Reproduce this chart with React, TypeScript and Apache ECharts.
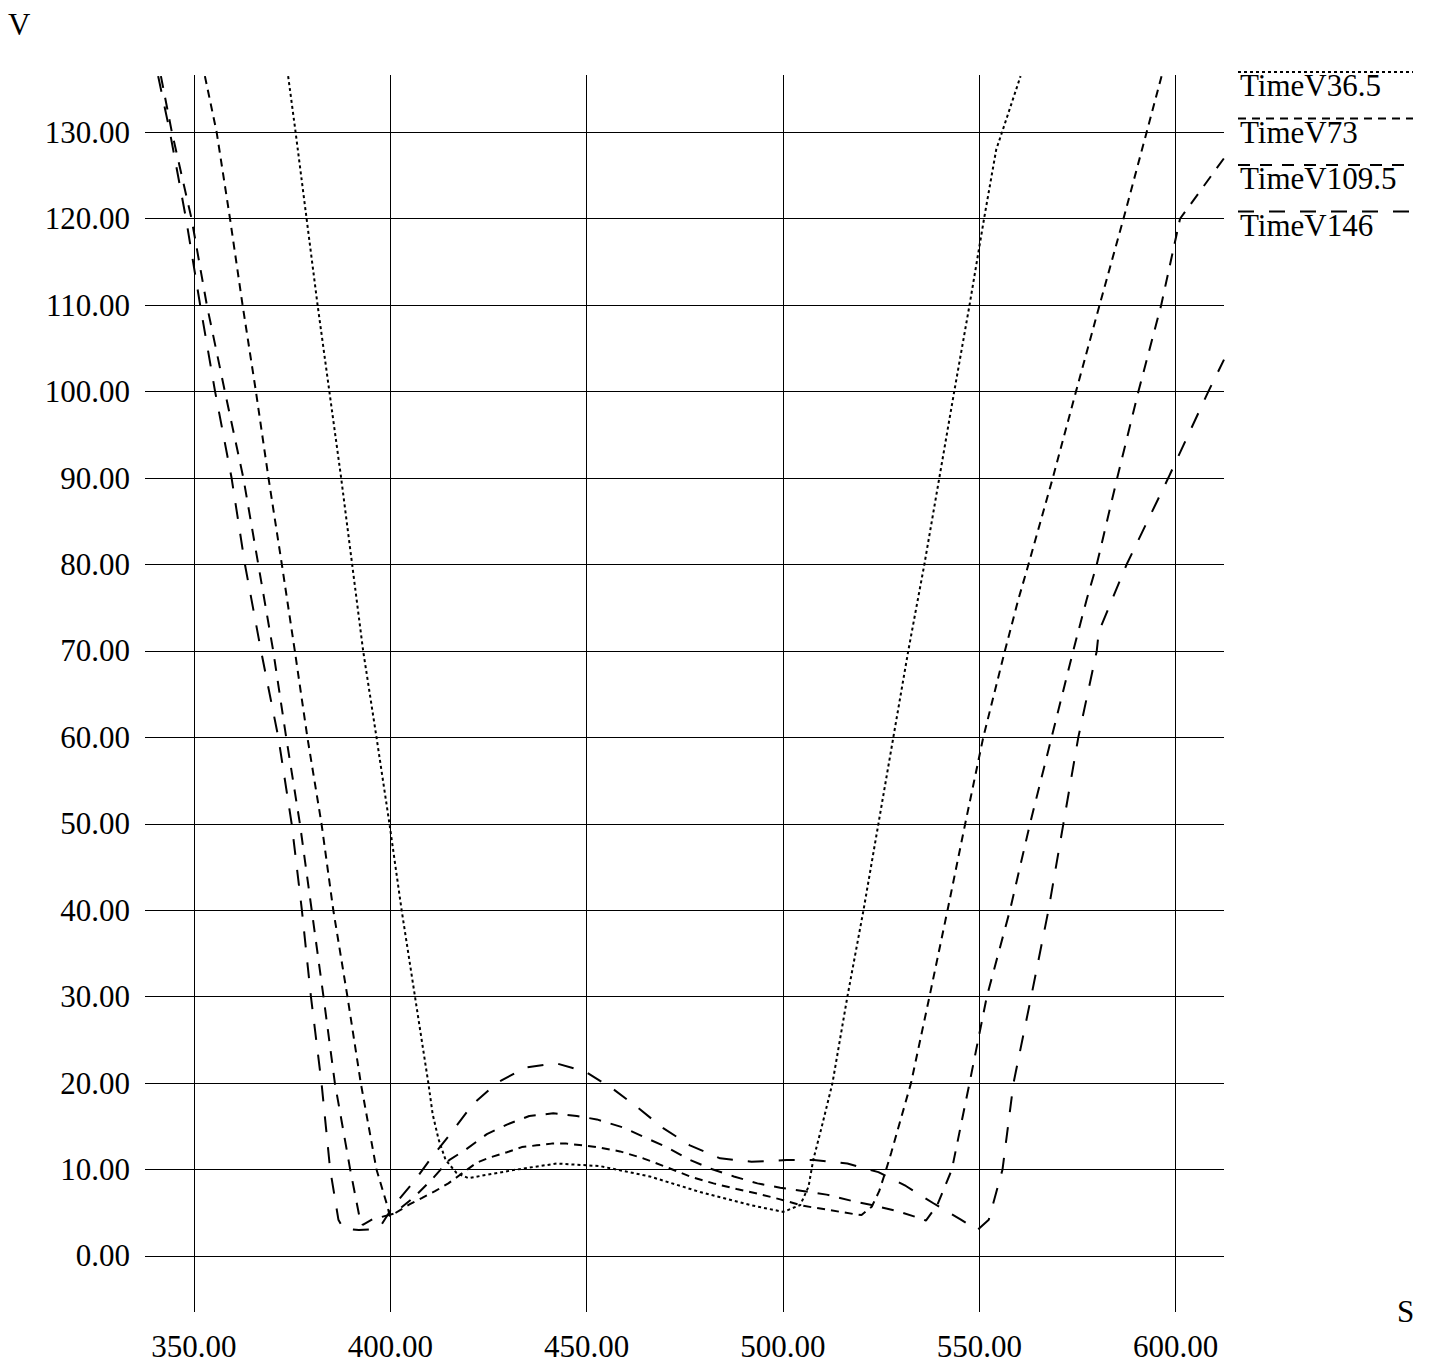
import { useEffect, useRef } from 'react';
import * as echarts from 'echarts';

// Series names, in legend order
const seriesNames = ['TimeV36.5', 'TimeV73', 'TimeV109.5', 'TimeV146'];

// TimeV36.5
const s36_5 = [374.0, 375.9, 378.7, 381.5, 384.5, 387.5, 390.3, 393.1, 396.5, 399.8, 402.9, 406.3, 409.7, 410.8, 412.3, 414.1, 416.9, 419.9, 424.6, 432.2, 442.4, 453.4, 466.1, 478.9, 491.6, 500.1, 504.4, 506.5, 507.7, 509.9, 512.6, 516.4, 520.5, 524.3, 528.1, 531.9, 536.0, 539.8, 543.6, 547.5, 551.2, 554.3, 556.5, 560.5];
const v36_5 = [136.5, 130, 120, 110, 100, 90, 80, 70, 60, 50, 40, 30, 20, 16.4, 13.5, 11.1, 9.6, 9.0, 9.4, 10.0, 10.7, 10.4, 9.2, 7.4, 5.9, 5.1, 5.9, 8.0, 11.1, 15.0, 20, 30, 40, 50, 60, 70, 80, 90, 100, 110, 120, 128, 131, 136.5];

// TimeV73
const s73 = [352.8, 355.8, 359.2, 362.4, 365.8, 369.0, 372.4, 375.7, 378.9, 382.5, 385.5, 389.1, 392.5, 396.5, 399.2, 399.9, 401.4, 405.0, 408.0, 411.4, 414.8, 417.8, 422.0, 425.4, 429.7, 433.5, 437.3, 441.1, 444.9, 449.2, 452.6, 458.5, 464.4, 470.8, 476.3, 482.3, 488.2, 493.7, 499.3, 505.2, 512.0, 517.9, 520.0, 522.6, 524.5, 526.0, 527.6, 532.6, 537.3, 541.9, 546.4, 551.0, 556.5, 559.9, 562.5, 568.7, 574.6, 580.6, 586.7, 592.6, 596.4];
const v73 = [136.5, 130, 120, 110, 100, 90, 80, 70, 60, 50, 40, 30, 20, 10, 5.9, 4.6, 5.0, 6.0, 6.7, 7.5, 8.4, 9.4, 10.8, 11.4, 12.0, 12.6, 12.8, 13.0, 13.0, 12.8, 12.6, 12.1, 11.3, 10.2, 9.2, 8.4, 7.75, 7.2, 6.55, 5.8, 5.3, 4.86, 4.74, 5.7, 7.5, 9.6, 12, 20, 30, 40, 50, 60, 70, 75.9, 80, 90, 100, 110, 120, 130, 136.5];

// TimeV109.5
const s109_5 = [341.6, 344.4, 349.4, 353.3, 357.9, 362.6, 366.4, 370.2, 373.5, 377.0, 380.0, 383.0, 385.9, 389.8, 392.3, 393.0, 395.3, 400.9, 406.3, 410.7, 415.0, 419.2, 424.6, 429.7, 435.4, 441.5, 447.5, 452.6, 459.1, 464.9, 470.4, 475.9, 481.6, 487.5, 493.5, 499.3, 505.4, 511.1, 517.3, 522.6, 529.0, 535.3, 536.4, 539.3, 543.0, 547.5, 551.9, 557.8, 562.9, 568.4, 573.9, 577.3, 579.9, 585.1, 590.5, 596.3, 601.1, 612.3];
const v109_5 = [136.5, 130, 120, 110, 100, 90, 80, 70, 60, 50, 40, 30, 20, 10, 4.2, 3.6, 4.2, 4.9, 6.9, 8.9, 11.1, 12.3, 14.1, 15.2, 16.2, 16.5, 16.2, 15.8, 14.9, 13.7, 12.6, 11.2, 10.1, 9.2, 8.4, 7.9, 7.5, 7.1, 6.4, 5.9, 5.2, 4.3, 4.1, 5.9, 10, 20, 30, 40, 50, 60, 70, 75.9, 80, 90, 100, 110, 120, 127];

// TimeV146
const s146 = [340.9, 343.9, 348.0, 351.6, 355.4, 359.6, 363.0, 367.1, 371.5, 374.9, 377.5, 379.8, 382.5, 384.7, 386.8, 388.0, 392.0, 395.5, 397.6, 400.5, 406.0, 410.7, 415.6, 420.9, 427.1, 434.3, 442.2, 449.8, 456.5, 463.2, 469.5, 476.3, 484.0, 492.0, 500.9, 507.9, 516.4, 524.3, 531.3, 538.3, 545.3, 549.5, 552.4, 555.9, 558.7, 563.2, 567.6, 571.4, 575.2, 579.9, 580.4, 587.5, 598.1, 608.3, 612.3];
const v146 = [136.5, 130, 120, 110, 100, 90, 80, 70, 60, 50, 40, 30, 20, 10, 4.2, 3.2, 3.0, 3.1, 3.5, 5.6, 8.6, 11.5, 14.3, 17.5, 20.0, 21.8, 22.3, 21.3, 19.4, 17.1, 14.8, 12.8, 11.3, 10.9, 11.1, 11.1, 10.7, 9.7, 8.1, 6.1, 4.2, 3.0, 4.2, 10, 20, 30, 40, 50, 60, 70, 72.2, 80, 90, 100, 103.7];

const sValues = [s36_5, s73, s109_5, s146];
const vValues = [v36_5, v73, v109_5, v146];

// Axis ranges and tick steps
const sRange = [337.55, 612.3];
const vRange = [-6.48, 136.63];
const sStep = 50;
const vStep = 10;

// Line dash pattern of each series
const dashPatterns = [[3, 3], [8, 6], [12, 10], [16, 15]];

const FONT = "'Liberation Serif', 'Times New Roman', Times, serif";

const isStep = (v: number, step: number) => Math.abs(v / step - Math.round(v / step)) < 1e-6;

export default function App() {
  const ref = useRef<HTMLDivElement>(null);

  useEffect(() => {
    const chart = echarts.init(ref.current!, null, { renderer: 'svg' });

    const series = seriesNames.map((name, i) => ({
      type: 'line',
      name,
      data: sValues[i].map((s, k) => [s, vValues[i][k]]),
      showSymbol: false,
      symbol: 'none',
      smooth: false,
      clip: true,
      silent: true,
      lineStyle: { color: '#000', width: 2, type: dashPatterns[i] },
    }));

    const legendItems = seriesNames.flatMap((name, i) => [
      {
        type: 'line',
        shape: { x1: 1238, y1: 72 + i * 46.5, x2: 1413, y2: 72 + i * 46.5 },
        style: { stroke: '#000', lineWidth: 2, lineDash: dashPatterns[i] },
      },
      {
        type: 'text',
        x: 1240,
        y: 85.5 + i * 46.5,
        style: { text: name, fontSize: 31, fontFamily: FONT, fill: '#000', verticalAlign: 'middle' },
      },
    ]);

    chart.setOption({
      animation: false,
      backgroundColor: '#fff',
      grid: { left: 145, right: 211, top: 75, bottom: 53, containLabel: false, outerBoundsMode: 'none' },
      xAxis: {
        type: 'value',
        min: sRange[0],
        max: sRange[1],
        minInterval: sStep,
        maxInterval: sStep,
        axisLine: { show: false },
        axisTick: { show: false },
        splitLine: { show: true, showMinLine: false, showMaxLine: false, lineStyle: { color: '#000', width: 1 } },
        axisLabel: {
          fontSize: 31,
          fontFamily: FONT,
          color: '#000',
          margin: 19,
          formatter: (v: number) => (isStep(v, sStep) ? v.toFixed(2) : ''),
        },
      },
      yAxis: {
        type: 'value',
        min: vRange[0],
        max: vRange[1],
        minInterval: vStep,
        maxInterval: vStep,
        axisLine: { show: false },
        axisTick: { show: false },
        splitLine: { show: true, showMinLine: false, showMaxLine: false, lineStyle: { color: '#000', width: 1 } },
        axisLabel: {
          fontSize: 31,
          fontFamily: FONT,
          color: '#000',
          margin: 15,
          formatter: (v: number) => (isStep(v, vStep) ? v.toFixed(2) : ''),
        },
      },
      series,
      graphic: [
        { type: 'text', x: 8, y: 24.5, style: { text: 'V', fontSize: 31, fontFamily: FONT, fill: '#000', verticalAlign: 'middle' } },
        { type: 'text', x: 1397, y: 1311.5, style: { text: 'S', fontSize: 31, fontFamily: FONT, fill: '#000', verticalAlign: 'middle' } },
        ...legendItems,
      ],
    });

    return () => chart.dispose();
  }, []);

  return <div ref={ref} style={{ position: 'absolute', left: 0, top: 0, width: 1435, height: 1365 }} />;
}
